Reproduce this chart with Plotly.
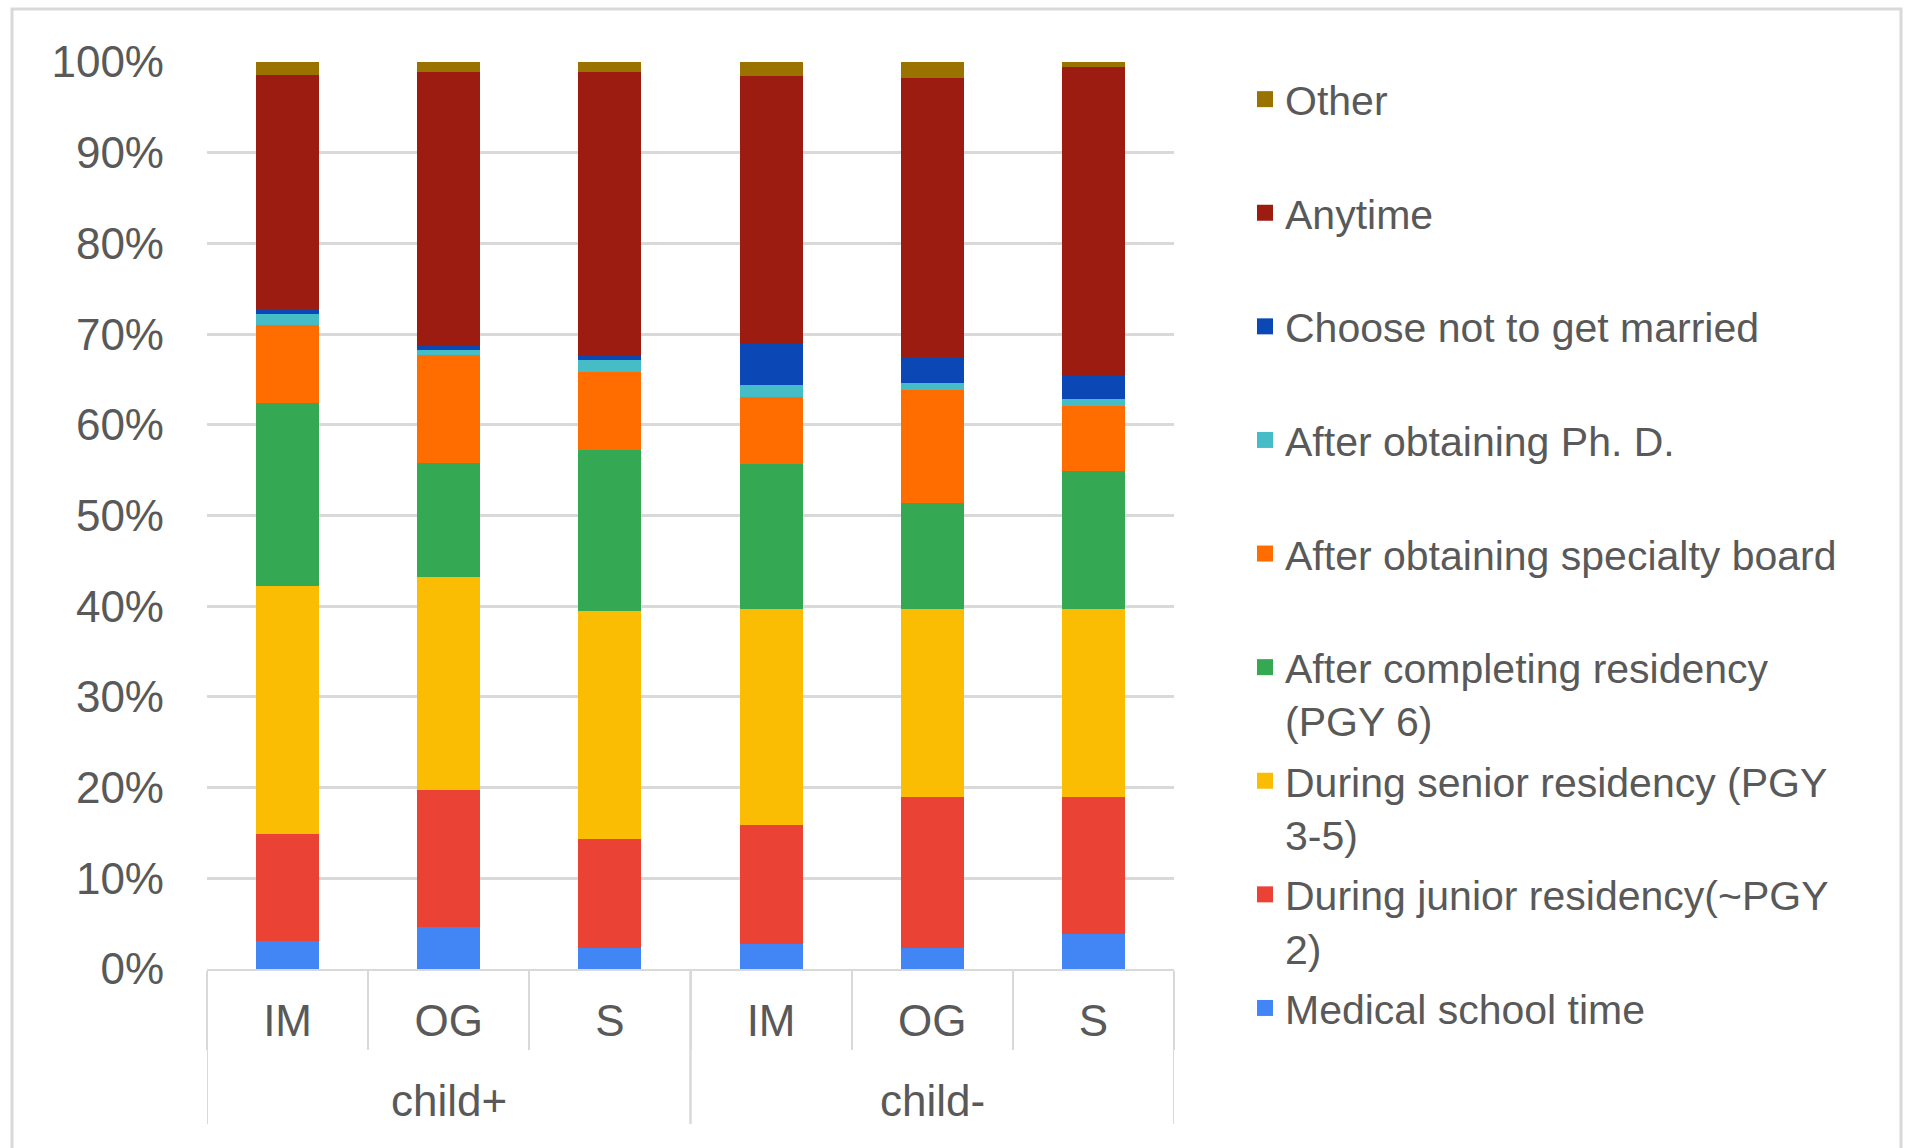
import plotly.graph_objects as go

# categories
groups = ["child+", "child+", "child+", "child-", "child-", "child-"]
specialties = ["IM", "OG", "S", "IM", "OG", "S"]

# series values (% of respondents), bottom to top of each stack
medical_school = [3.1, 4.6, 2.35, 2.8, 2.35, 3.85]
junior_residency = [11.75, 15.1, 11.95, 13.1, 16.65, 15.15]
senior_residency = [27.4, 23.55, 25.2, 23.8, 20.7, 20.7]
after_residency = [20.2, 12.5, 17.7, 16.0, 11.7, 15.2]
after_board = [8.6, 11.95, 8.65, 7.4, 12.4, 7.2]
after_phd = [1.2, 0.55, 1.25, 1.25, 0.8, 0.7]
not_married = [0.4, 0.45, 0.5, 4.65, 2.8, 2.6]
anytime = [25.9, 30.2, 31.3, 29.5, 30.8, 34.0]
other = [1.5, 1.1, 1.1, 1.5, 1.8, 0.6]

# y tick labels
y_ticks = [0, 10, 20, 30, 40, 50, 60, 70, 80, 90, 100]
y_labels = ["0%", "10%", "20%", "30%", "40%", "50%", "60%", "70%", "80%", "90%", "100%"]

series = [
    ("Medical school time", medical_school, "#4285F4"),
    ("During junior residency(~PGY<br>2)", junior_residency, "#EA4335"),
    ("During senior residency (PGY<br>3-5)", senior_residency, "#FBBC04"),
    ("After completing residency<br>(PGY 6)", after_residency, "#34A853"),
    ("After obtaining specialty board<br> ", after_board, "#FF6D01"),
    ("After obtaining Ph. D.<br> ", after_phd, "#46BDC6"),
    ("Choose not to get married<br> ", not_married, "#0B47B5"),
    ("Anytime<br> ", anytime, "#9C1C12"),
    ("Other<br> ", other, "#997200"),
]

# page / plot area in pixels
W, H = 1906, 1148
L, R, T, B = 207, 1174, 62, 969
GRAY = "#D9D9D9"
TEXT = "#595959"
FONT = "Liberation Sans, Arial, sans-serif"


def px_x(p):
    return (p - L) / (R - L)


def px_y(p):
    return (B - p) / (B - T)


# one unique category per bar, labelled with the specialty
x_keys = [f"{g}|{s}" for g, s in zip(groups, specialties)]

fig = go.Figure()
for i, (name, vals, color) in enumerate(series):
    fig.add_trace(go.Bar(
        x=x_keys,
        y=vals,
        name=name,
        legendgroup=str(i),
        showlegend=False,
        marker=dict(color=color, line=dict(width=0)),
    ))
    # legend entry with a bigger square swatch
    fig.add_trace(go.Scatter(
        x=[None], y=[None],
        mode="markers",
        name=name,
        legendgroup=str(i),
        legendrank=len(series) - i,
        marker=dict(symbol="square", size=16, color=color),
        hoverinfo="skip",
    ))

# group labels and group dividers under the axis
annotations = []
shapes = [dict(
    type="rect", xref="paper", yref="paper",
    x0=px_x(12), x1=px_x(1901), y0=px_y(1170), y1=px_y(9),
    line=dict(color=GRAY, width=3), fillcolor="rgba(0,0,0,0)",
)]
for g in dict.fromkeys(groups):
    idx = [i for i, gg in enumerate(groups) if gg == g]
    annotations.append(dict(
        x=(idx[0] + idx[-1]) / 2, xref="x",
        y=px_y(1100), yref="paper", yanchor="middle",
        text=g, showarrow=False,
        font=dict(size=44, color=TEXT, family=FONT),
    ))
    for xb in (idx[0] - 0.5, idx[-1] + 0.5):
        shapes.append(dict(
            type="line", xref="x", yref="paper",
            x0=xb, x1=xb, y0=0, y1=px_y(1124),
            line=dict(color=GRAY, width=2),
        ))

fig.update_layout(
    width=W, height=H,
    margin=dict(l=L, r=W - R, t=T, b=H - B, pad=0),
    paper_bgcolor="white",
    plot_bgcolor="white",
    barmode="stack",
    bargap=0.61,
    font=dict(family=FONT, color=TEXT),
    legend=dict(
        x=px_x(1245), y=px_y(66),
        xanchor="left", yanchor="top",
        traceorder="grouped",
        tracegroupgap=4,
        valign="top",
        itemsizing="trace",
        maxheight=1100,
        font=dict(size=41, color=TEXT, family=FONT),
        bgcolor="rgba(0,0,0,0)",
    ),
    shapes=shapes,
    annotations=annotations,
)

fig.update_xaxes(
    type="category",
    tickmode="array", tickvals=x_keys, ticktext=specialties,
    range=[-0.5, len(x_keys) - 0.5],
    showgrid=False,
    showline=True, linecolor=GRAY, linewidth=2,
    ticks="outside", tickson="boundaries", ticklen=79,
    tickcolor=GRAY, tickwidth=2,
    tickfont=dict(size=44, color=TEXT, family=FONT),
    ticklabelstandoff=12,
)

fig.update_yaxes(
    range=[0, 100],
    tickmode="array",
    tickvals=y_ticks,
    ticktext=y_labels,
    showgrid=True, gridcolor=GRAY, gridwidth=3,
    zeroline=False, showline=False,
    ticks="",
    ticklabelstandoff=42,
    tickfont=dict(size=44, color=TEXT, family=FONT),
)

fig.write_html("out.html", config=dict(displayModeBar=False),
               post_script="document.body.style.margin='0';")
